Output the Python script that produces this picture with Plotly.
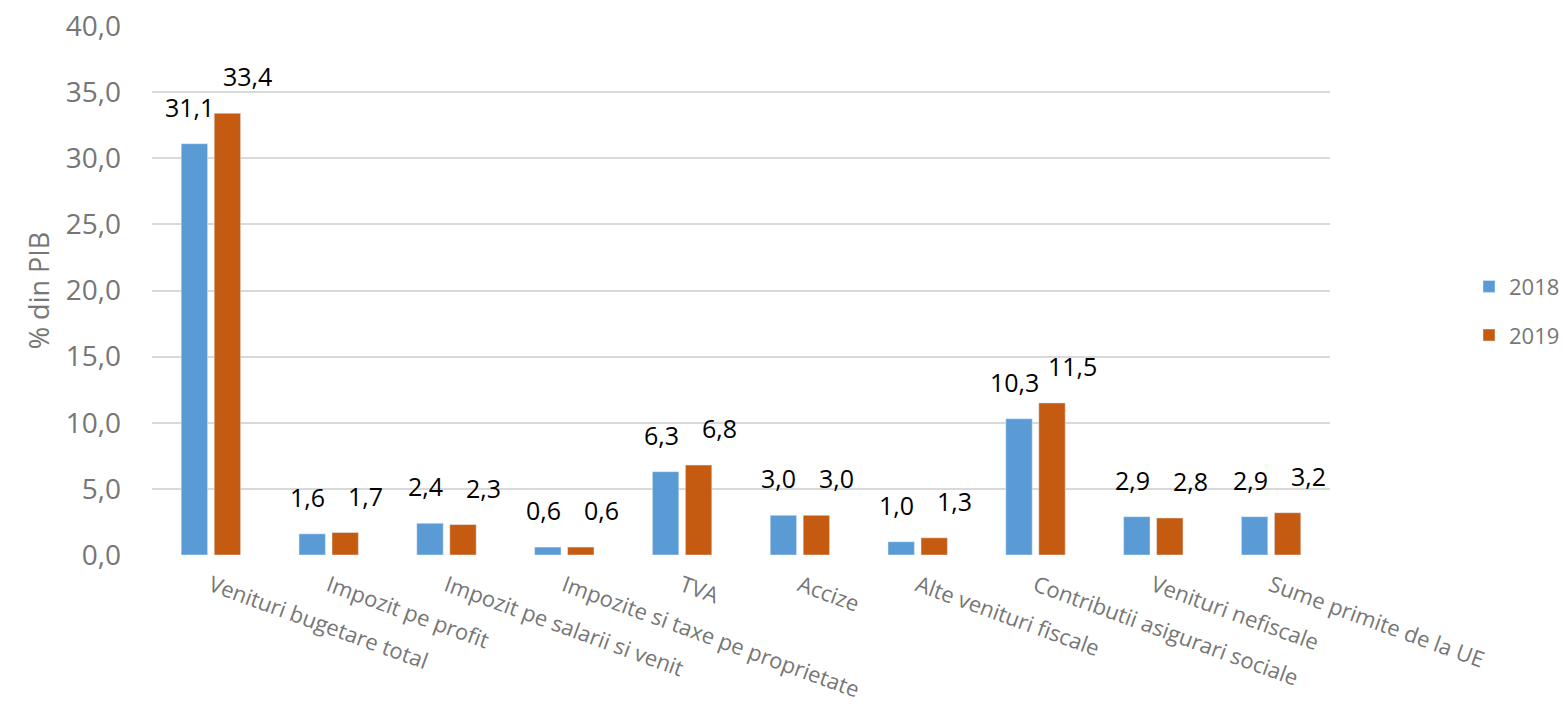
import plotly.graph_objects as go

categories = ["Venituri bugetare total", "Impozit pe profit", "Impozit pe salarii si venit",
              "Impozite si taxe pe proprietate", "TVA", "Accize", "Alte venituri fiscale",
              "Contributii asigurari sociale", "Venituri nefiscale", "Sume primite de la UE"]
values_2018 = [31.1, 1.6, 2.4, 0.6, 6.3, 3.0, 1.0, 10.3, 2.9, 2.9]
values_2019 = [33.4, 1.7, 2.3, 0.6, 6.8, 3.0, 1.3, 11.5, 2.8, 3.2]
y_ticks = [0, 5, 10, 15, 20, 25, 30, 35, 40]

BLUE = "#5B9BD5"
ORANGE = "#C55A11"
GRAY = "#767676"
FONT = "Open Sans"

def fmt(v):
    return f"{v:.1f}".replace(".", ",")

fig = go.Figure()
fig.add_trace(go.Bar(name="2018", x=categories, y=values_2018, marker_color=BLUE,
                     legendgroup="a"))
fig.add_trace(go.Bar(name="2019", x=categories, y=values_2019, marker_color=ORANGE,
                     legendgroup="b"))

annotations = []
for c, v in zip(categories, values_2018):
    annotations.append(dict(x=c, y=v, text=fmt(v), showarrow=False, xshift=-21, yshift=37,
                            yanchor="middle", font=dict(family=FONT, size=25, color="black")))
for c, v in zip(categories, values_2019):
    annotations.append(dict(x=c, y=v, text=fmt(v), showarrow=False, xshift=37, yshift=37,
                            yanchor="middle", font=dict(family=FONT, size=25, color="black")))

fig.update_layout(
    width=1564, height=707,
    margin=dict(l=152, r=234, t=26, b=152, autoexpand=False),
    paper_bgcolor="white", plot_bgcolor="white",
    barmode="group", bargap=0.44, bargroupgap=0.2,
    separators=", ",
    font=dict(family=FONT, color=GRAY),
    annotations=annotations,
    legend=dict(x=1.118, y=0.461, xanchor="left", yanchor="middle",
                font=dict(family=FONT, size=22, color=GRAY),
                traceorder="grouped", tracegroupgap=17),
    xaxis=dict(tickangle=20, tickfont=dict(family=FONT, size=22, color=GRAY),
               showline=False, showgrid=False, ticks="", ticklabelstandoff=13,
               automargin=False),
    yaxis=dict(range=[0, 40], tickvals=y_ticks, tickformat=".1f",
               tickfont=dict(family=FONT, size=28, color=GRAY),
               gridcolor="#D9D9D9", gridwidth=2, zeroline=False, showline=False,
               ticklabelstandoff=30, automargin=False,
               title=dict(text="% din PIB", font=dict(family=FONT, size=27, color=GRAY),
                          standoff=8)),
)

fig.write_html("out.html")
